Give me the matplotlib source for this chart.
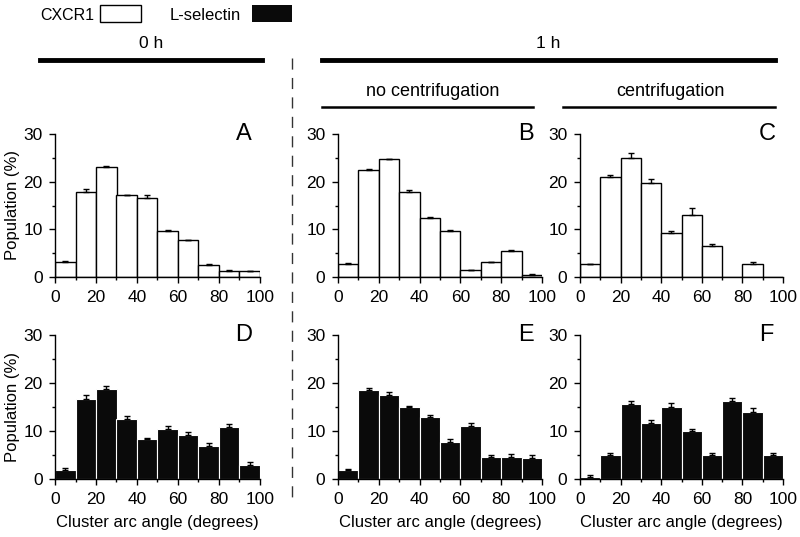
import numpy as np
import matplotlib

matplotlib.use("Agg")
import matplotlib.pyplot as plt
from matplotlib.lines import Line2D
from matplotlib.patches import Rectangle

plt.rcParams["font.family"] = ["Liberation Sans", "DejaVu Sans"]

# -----------------------------
# Data
# -----------------------------
bin_edges = [0, 10, 20, 30, 40, 50, 60, 70, 80, 90]

cxcr1_0h = [3.2, 17.8, 23.0, 17.1, 16.6, 9.6, 7.7, 2.6, 1.3, 1.3]
cxcr1_0h_err = [0.1, 0.6, 0.2, 0.1, 0.7, 0.3, 0.15, 0.1, 0.1, 0.05]

cxcr1_1h_nocf = [2.8, 22.4, 24.7, 17.8, 12.4, 9.6, 1.4, 3.2, 5.5, 0.5]
cxcr1_1h_nocf_err = [0.15, 0.2, 0.1, 0.4, 0.1, 0.2, 0.1, 0.0, 0.2, 0.05]

cxcr1_1h_cf = [2.65, 21.0, 25.0, 19.8, 9.2, 13.1, 6.6, 0.0, 2.65, 0.0]
cxcr1_1h_cf_err = [0.15, 0.4, 1.1, 0.8, 0.5, 1.3, 0.4, 0.0, 0.4, 0.0]

lsel_0h = [1.9, 16.6, 18.85, 12.6, 8.25, 10.5, 9.2, 6.9, 10.8, 2.9]
lsel_0h_err = [0.4, 0.8, 0.6, 0.5, 0.35, 0.55, 0.5, 0.55, 0.7, 0.55]

lsel_1h_nocf = [1.8, 18.5, 17.4, 14.9, 12.9, 7.75, 11.1, 4.65, 4.65, 4.35]
lsel_1h_nocf_err = [0.3, 0.5, 0.7, 0.4, 0.5, 0.55, 0.6, 0.3, 0.5, 0.6]

lsel_1h_cf = [0.5, 4.9, 15.65, 11.7, 15.1, 10.05, 4.9, 16.2, 14.05, 4.9]
lsel_1h_cf_err = [0.3, 0.45, 0.5, 0.6, 0.7, 0.4, 0.55, 0.6, 0.7, 0.45]

panels = [
    ("A", cxcr1_0h, cxcr1_0h_err, "white"),
    ("B", cxcr1_1h_nocf, cxcr1_1h_nocf_err, "white"),
    ("C", cxcr1_1h_cf, cxcr1_1h_cf_err, "white"),
    ("D", lsel_0h, lsel_0h_err, "black"),
    ("E", lsel_1h_nocf, lsel_1h_nocf_err, "black"),
    ("F", lsel_1h_cf, lsel_1h_cf_err, "black"),
]

W, H = 800, 537
fig = plt.figure(figsize=(8, 5.37), dpi=100)


def px_axes(x0, y0, x1, y1):
    # pixel box (from top-left) -> figure axes
    return fig.add_axes([x0 / W, 1 - y1 / H, (x1 - x0) / W, (y1 - y0) / H])


col_px = [(55, 260), (338, 542), (580, 783)]
row_px = [(134, 277), (335, 479)]

edges = np.array(bin_edges)
for i, (letter, vals, errs, color) in enumerate(panels):
    r, c = divmod(i, 3)
    ax = px_axes(col_px[c][0], row_px[r][0], col_px[c][1], row_px[r][1])
    vals = np.array(vals)
    errs = np.array(errs)
    if color == "white":
        ax.bar(edges, vals, width=10, align="edge", color="white",
               edgecolor="black", linewidth=1.0, zorder=2)
    else:
        ax.bar(edges, vals, width=10, align="edge", color="#0a0a0a",
               edgecolor="white", linewidth=0.8, zorder=2)
    m = vals > 0
    ax.errorbar(edges[m] + 5, vals[m],
                yerr=[np.zeros(m.sum()), errs[m]],
                fmt="none", ecolor="black", elinewidth=1.0,
                capsize=2.5, capthick=1.0, zorder=3)

    ax.set_xlim(0, 100)
    ax.set_ylim(0, 30)
    ax.set_xticks([0, 20, 40, 60, 80, 100])
    ax.set_xticks(np.arange(10, 100, 20), minor=True)
    ax.set_yticks([0, 10, 20, 30])
    ax.set_yticks([5, 15, 25], minor=True)
    for side in ["top", "right"]:
        ax.spines[side].set_visible(False)
    for side in ["left", "bottom"]:
        ax.spines[side].set_linewidth(1.0)
    ax.tick_params(which="major", direction="out", length=4, width=1,
                   labelsize=12.5, pad=5)
    ax.tick_params(which="minor", direction="out", length=2.5, width=1)
    ax.patch.set_visible(False)
    ax.text(0.92, 1.0, letter, transform=ax.transAxes, fontsize=17,
            ha="center", va="center")
    if c == 0:
        ax.set_ylabel("Population (%)", fontsize=12, labelpad=2)
    if r == 1:
        ax.set_xlabel("Cluster arc angle (degrees)", fontsize=12, labelpad=6)

# -----------------------------
# Annotations: legend, group bars, divider
# -----------------------------


def fx(x):
    return x / W


def fy(y):
    return 1 - y / H


fig.text(fx(40), fy(15), "CXCR1", fontsize=11.5, ha="left", va="center")
fig.patches.append(Rectangle((fx(100), fy(22)), fx(41), 17 / H,
                             transform=fig.transFigure, facecolor="white",
                             edgecolor="black", linewidth=1.0))
fig.text(fx(170), fy(15), "L-selectin", fontsize=12, ha="left", va="center")
fig.patches.append(Rectangle((fx(252), fy(22)), fx(40), 17 / H,
                             transform=fig.transFigure, facecolor="#0a0a0a",
                             edgecolor="none"))

fig.lines.append(Line2D([fx(40), fx(262)], [fy(60), fy(60)], color="black",
                        linewidth=3.5, transform=fig.transFigure))
fig.text(fx(151), fy(44), "0 h", fontsize=12.5, ha="center", va="center")

fig.lines.append(Line2D([fx(322), fx(775)], [fy(60), fy(60)], color="black",
                        linewidth=3.5, transform=fig.transFigure))
fig.text(fx(548), fy(44), "1 h", fontsize=12.5, ha="center", va="center")

fig.lines.append(Line2D([fx(322), fx(533)], [fy(107), fy(107)], color="black",
                        linewidth=1.8, transform=fig.transFigure))
fig.text(fx(433), fy(92), "no centrifugation", fontsize=13, ha="center",
         va="center")

fig.lines.append(Line2D([fx(563), fx(775)], [fy(107), fy(107)], color="black",
                        linewidth=1.8, transform=fig.transFigure))
fig.text(fx(670), fy(92), "centrifugation", fontsize=13, ha="center",
         va="center")

fig.lines.append(Line2D([fx(292), fx(292)], [fy(58), fy(500)], color="#333333",
                        linewidth=1.0, linestyle=(0, (8, 6)),
                        transform=fig.transFigure))

fig.savefig("out.png", dpi=100)
